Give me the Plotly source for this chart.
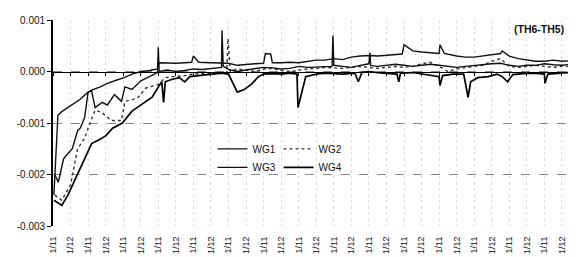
import plotly.graph_objects as go

# x positions are in units of the category ticks (0 = first "1/11" label)
tick_labels = ["1/11" if i % 2 == 0 else "1/12" for i in range(30)]
tick_pos = list(range(30))

wg1_x = [0.05, 0.17, 0.28, 0.5, 0.75, 1.0, 1.25, 1.55, 1.9, 2.2, 2.7, 3.1, 3.6, 4.05, 4.5, 5.0, 5.5, 5.95, 6.05, 6.5,
         7.0, 7.5, 7.9, 8.0, 8.3, 9.0, 9.6, 10.0, 10.5, 11.0, 11.5, 12.0, 12.1, 12.4, 12.5, 13.0, 13.5, 14.0, 14.5, 15.0,
         15.5, 16.0, 16.5, 17.0, 17.5, 18.0, 18.5, 19.0, 19.5, 19.9, 20.0, 20.5, 21.0, 21.5, 22.0, 22.05, 22.3, 23.0, 23.5,
         24.0, 24.5, 25.0, 25.5, 25.6, 26.0, 26.5, 27.0, 27.5, 28.0, 28.5, 29.0, 29.5, 29.8]
wg1_y = [-0.0024, -0.00153, -0.00085, -0.00078, -0.00072, -0.00066, -0.0006, -0.00054, -0.00043, -0.00036, -0.0003,
         -0.00023, -0.00017, -0.00012, -0.00005, 0.0, 0.00002, 0.00005, 0.00017, 0.00016, 0.00016, 0.00017, 0.00018,
         0.0003, 0.00018, 0.00017, 0.00017, 0.00016, 0.00012, 0.00014, 0.00015, 0.00016, 0.00035, 0.00034, 0.00017,
         0.00017, 0.00018, 0.00017, 0.0002, 0.00022, 0.00022, 0.00025, 0.00023, 0.00028, 0.0003, 0.00031, 0.0003,
         0.00031, 0.00032, 0.00034, 0.00052, 0.0004, 0.00038, 0.00036, 0.00035, 0.00052, 0.00035, 0.0003, 0.00028,
         0.00028, 0.0003, 0.00032, 0.00035, 0.0004, 0.0003, 0.00025, 0.00022, 0.0002, 0.0002, 0.00022, 0.0002, 0.00021,
         0.0002]

wg2_x = [0.1, 0.5, 1.0, 1.4, 1.8, 2.0, 2.4, 2.8, 3.3, 3.9, 4.1, 4.8, 5.3, 6.0, 6.4, 6.8, 7.5, 8.0, 8.5, 9.0, 9.9, 9.97,
         10.1, 10.5, 11.0, 11.5, 12.0, 12.5, 13.0, 13.5, 13.9, 14.5, 15.0, 15.5, 16.0, 16.5, 17.0, 17.5, 18.0, 18.5, 19.0,
         19.5, 20.0, 20.5, 21.0, 21.5, 22.0, 22.5, 23.0, 23.5, 24.0, 24.5, 25.0, 25.5, 26.0, 26.5, 27.0, 27.5, 28.0, 28.5,
         29.0, 29.5, 29.8]
wg2_y = [-0.0024, -0.0025, -0.0022, -0.0015, -0.0013, -0.0011, -0.00075, -0.0008, -0.00095, -0.00095, -0.00058,
         -0.00052, -0.00032, -0.00025, -0.00012, -0.0001, -0.00008, -0.00005, -0.00004, -0.00003, -0.00002, 0.00064,
         0.0, 0.00005, 0.00003, 0.0, 0.00005, 0.00006, 0.00002, 0.0, 0.00002, 0.00005, 0.00006, 0.00008, 0.00007,
         0.00006, 0.00008, 0.0001, 0.00008, 0.00006, 0.00008, 0.0001, 0.00008, 0.0001, 0.00015, 0.00018, 0.0001, 0.0,
         0.00005, 0.00008, 0.0001, 0.00012, 0.0002, 0.00025, 0.0001, 0.00008, 0.0001, 0.00012, 0.0001, 0.00008, 0.0001,
         0.0001, 0.0001]

wg3_x = [0.1, 0.3, 0.6, 0.7, 1.1, 1.4, 1.55, 1.8, 2.0, 2.2, 2.4, 2.8, 3.1, 3.5, 3.9, 4.1, 4.5, 5.0, 5.5, 5.95, 6.0, 6.05,
         6.5, 7.0, 7.5, 8.0, 8.5, 9.0, 9.6, 9.63, 9.7, 10.0, 10.5, 11.0, 11.5, 12.0, 12.5, 13.0, 13.5, 14.0, 14.5, 15.0,
         15.5, 15.9, 15.95, 16.0, 16.5, 17.0, 17.5, 18.0, 18.06, 18.1, 18.5, 19.0, 19.5, 20.0, 20.5, 21.0, 21.5, 22.0,
         22.5, 23.0, 23.5, 24.0, 24.5, 25.0, 25.5, 26.0, 26.5, 27.0, 27.5, 28.0, 28.5, 29.0, 29.5, 29.8]
wg3_y = [-0.002, -0.00215, -0.0017, -0.00165, -0.0015, -0.00115, -0.0011, -0.0009, -0.0004, -0.00038, -0.0007, -0.0006,
         -0.00065, -0.00045, -0.00058, -0.0003, -0.00035, -0.00018, -0.0001, -0.00002, 0.00047, 0.0, 0.00003, 0.0,
         0.00002, 0.00005, 0.00004, 0.00006, 0.00008, 0.0008, 0.0001, 0.00004, 0.0, 0.00003, 0.00006, 0.00008, 0.00007,
         0.00005, 0.00006, 0.0001, 0.00008, 0.00009, 0.0001, 0.0001, 0.0007, 0.00012, 0.0001, 0.00008, 0.00012, 0.00015,
         0.00037, 0.00012, 0.0001, 0.00012, 0.00014, 0.00012, 0.0001, 0.00012, 0.00014, 0.00012, 0.0001, 0.00008, 0.0001,
         0.00012, 0.00014, 0.00015, 0.00016, 0.00012, 0.0001, 0.00012, 0.00012, 0.00015, 0.00013, 0.00012, 0.00014,
         0.00015]

wg4_x = [0.05, 0.5, 0.85, 1.4, 1.8, 2.2, 2.6, 3.0, 3.4, 3.95, 4.5, 5.1, 5.65, 6.0, 6.2, 6.3, 6.4, 6.8, 7.2, 7.5, 7.8,
         8.3, 9.0, 9.6, 10.0, 10.2, 10.5, 10.9, 11.3, 11.7, 12.0, 12.5, 13.0, 13.5, 13.9, 13.96, 14.2, 14.4, 15.0, 15.5,
         16.0, 16.5, 17.2, 17.4, 17.6, 18.0, 18.5, 19.0, 19.6, 19.7, 19.8, 20.5, 21.0, 21.5, 22.0, 22.05, 22.2, 22.8,
         23.4, 23.65, 23.8, 24.2, 24.8, 25.3, 25.6, 25.9, 26.2, 26.8, 27.4, 28.0, 28.03, 28.2, 28.8, 29.3, 29.8]
wg4_y = [-0.0025, -0.0026, -0.0024, -0.002, -0.0017, -0.0014, -0.00133, -0.00125, -0.0011, -0.001, -0.00077, -0.00062,
         -0.0005, -0.0003, -0.0002, -0.0006, -0.0002, -0.00015, -0.00012, -0.0002, -0.0001, -0.00008, -0.00005,
         -0.00003, -0.00005, -0.0002, -0.0004, -0.00035, -0.00025, -0.0001, -0.00005, -0.00004, -0.00005, -0.00003,
         -0.00005, -0.0007, -0.00035, -0.0001, -0.00005, -0.00003, -0.00004, -0.00005, -0.00003, -0.0002, -0.00002, 0.0,
         -0.00002, -0.00003, -0.00005, -0.0002, -0.00003, -0.00002, -0.00005, -0.00008, -0.0001, -0.00027, -0.00008,
         -0.00005, -0.00005, -0.0005, -0.0002, -0.00012, -0.0001, -0.00005, -0.0001, -0.0002, -0.00006, -0.00004,
         -0.00003, -0.00005, -0.00023, -0.00005, -0.00003, -0.00002, -0.00006]

y_ticks = [-0.003, -0.002, -0.001, 0.0, 0.001]
y_tick_text = ["-0.003", "-0.002", "-0.001", "0.000", "0.001"]

FONT = "Liberation Sans, Arial, sans-serif"

fig = go.Figure()
fig.add_trace(go.Scatter(x=wg1_x, y=wg1_y, mode="lines", name="WG1",
                         line=dict(color="#111", width=1.4), legend="legend"))
fig.add_trace(go.Scatter(x=wg2_x, y=wg2_y, mode="lines", name="WG2",
                         line=dict(color="#333", width=1.4, dash="dot"), legend="legend"))
fig.add_trace(go.Scatter(x=wg3_x, y=wg3_y, mode="lines", name="WG3",
                         line=dict(color="#111", width=1.4), legend="legend2"))
fig.add_trace(go.Scatter(x=wg4_x, y=wg4_y, mode="lines", name="WG4",
                         line=dict(color="#000", width=1.7), legend="legend2"))
# invisible helper so the zero-line axis (x2) is drawn
fig.add_trace(go.Scatter(x=[0], y=[0], xaxis="x2", mode="markers", marker=dict(opacity=0),
                         showlegend=False, hoverinfo="skip"))

legend_style = dict(xanchor="left", yanchor="top", orientation="h",
                    bgcolor="rgba(0,0,0,0)", font=dict(size=10, family=FONT, color="#111"),
                    entrywidth=21, itemwidth=30, tracegroupgap=0)

fig.update_layout(
    width=568, height=249,
    margin=dict(l=45, r=0, t=12, b=31),
    paper_bgcolor="white", plot_bgcolor="white",
    font=dict(family=FONT, size=9, color="#111"),
    xaxis=dict(range=[0, 29.8], tickvals=tick_pos, ticktext=tick_labels, tickangle=-90,
               showline=False, ticks="outside", ticklen=6, tickcolor="rgba(0,0,0,0)",
               showgrid=True, gridcolor="#dddddd", griddash="dot",
               gridwidth=1, zeroline=False, tickfont=dict(size=9, family=FONT, color="#111")),
    xaxis2=dict(range=[0, 29.8], overlaying="x", anchor="free", position=0.75, side="bottom",
                showline=True, linecolor="#000", linewidth=1, ticks="outside", ticklen=3,
                tickcolor="#000", tickvals=tick_pos, showticklabels=False, showgrid=False, zeroline=False),
    yaxis=dict(range=[-0.003, 0.001], tickvals=y_ticks, ticktext=y_tick_text, showline=True,
               linecolor="#000", linewidth=1.8, ticks="outside", ticklen=4, tickcolor="#000",
               showgrid=True, gridcolor="#888", griddash="dash", gridwidth=1, zeroline=False,
               tickfont=dict(size=10, family=FONT, color="#111")),
    legend=dict(x=0.305, y=0.445, **legend_style),
    legend2=dict(x=0.305, y=0.355, **legend_style),
    annotations=[dict(text="<b>(TH6-TH5)</b>", x=0.929, y=0.956, xref="paper", yref="paper",
                      xanchor="center", yanchor="middle", showarrow=False,
                      font=dict(size=10.5, family=FONT, color="#111"))],
    showlegend=True,
)

fig.write_html("out.html")
